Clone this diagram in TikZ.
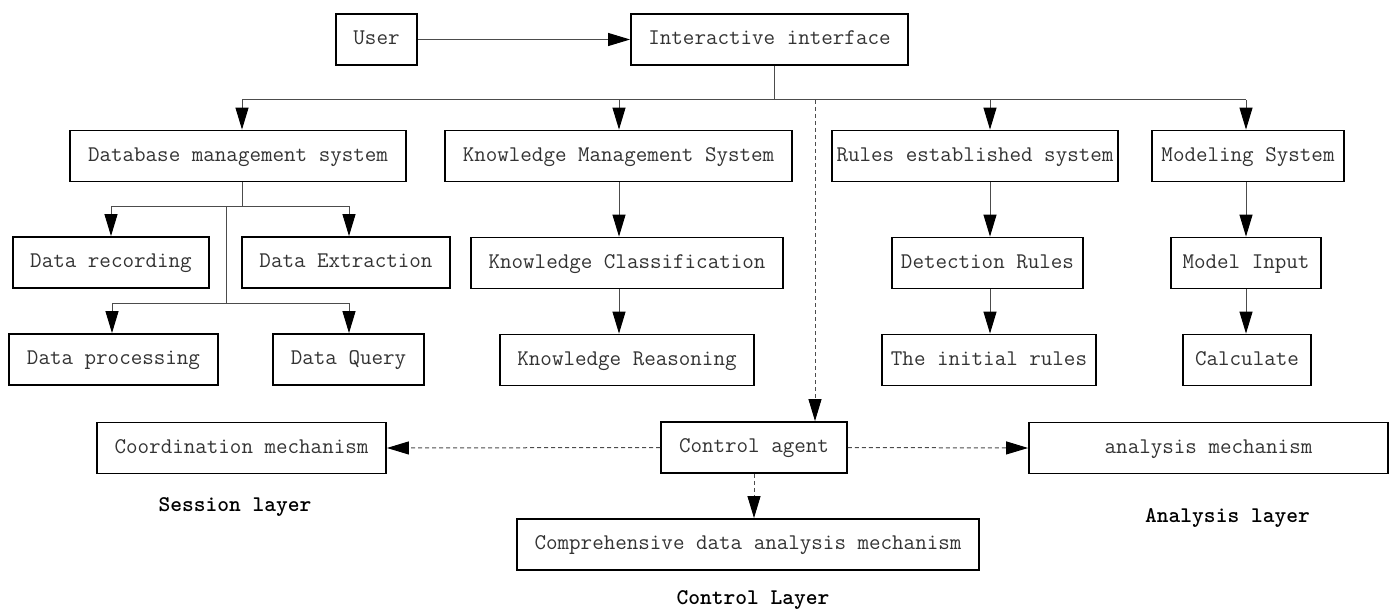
\documentclass[tikz,border=0pt]{standalone}
\usetikzlibrary{arrows.meta}
\begin{document}
\begin{tikzpicture}[x=0.5pt,y=-0.5pt,
		box/.style={draw,line width=0.9pt,minimum height=25.5pt,inner sep=0pt,text height=1.6ex,text depth=0.4ex,text=black!80,font=\ttfamily\fontsize{11.2}{13}\selectfont},
		layer/.style={font=\ttfamily\bfseries\fontsize{11.2}{13}\selectfont},
		link/.style={draw=black!70,line width=0.5pt},
		arr/.style={link,-{Triangle[length=11pt,width=6.5pt,color=black]}},
		darr/.style={arr,dash pattern=on 2pt off 1.5pt}]
		\useasboundingbox (0,0) rectangle (1397,610);
		\node[box,minimum width=40.5pt] (user) at (376.5,39.5) {User};
		\node[box,minimum width=138.5pt] (iface) at (769.5,39.5) {Interactive interface};
		\node[box,minimum width=168pt] (dbms) at (238,156) {Database management system};
		\node[box,minimum width=173.5pt] (kms) at (618.5,156) {Knowledge Management System};
		\node[box,minimum width=143pt] (res) at (975,156) {Rules established system};
		\node[box,minimum width=96pt] (ms) at (1248,156) {Modeling System};
		\node[box,minimum width=98pt] (drec) at (111,262.5) {Data recording};
		\node[box,minimum width=104pt] (dext) at (346,262.5) {Data Extraction};
		\node[box,minimum width=156pt] (kc) at (627,263) {Knowledge Classification};
		\node[box,minimum width=95.5pt] (dr) at (987.5,263) {Detection Rules};
		\node[box,minimum width=75pt] (mi) at (1246,263) {Model Input};
		\node[box,minimum width=104.5pt] (dproc) at (113.5,359.5) {Data processing};
		\node[box,minimum width=75.5pt] (dq) at (348.5,359.5) {Data Query};
		\node[box,minimum width=127pt] (kr) at (627,360) {Knowledge Reasoning};
		\node[box,minimum width=107pt] (tir) at (989,360) {The initial rules};
		\node[box,minimum width=64pt] (calc) at (1247,360) {Calculate};
		\node[box,minimum width=144.5pt] (coord) at (241.5,448) {Coordination mechanism};
		\node[box,minimum width=93pt] (ctrl) at (754,447.5) {Control agent};
		\node[box,minimum width=179.5pt] (anal) at (1208.5,448) {analysis mechanism};
		\node[box,minimum width=231pt] (comp) at (748,544.5) {Comprehensive data analysis mechanism};
		\node[layer] (session) at (235,507) {Session layer};
		\node[layer] (control) at (753,600) {Control Layer};
		\node[layer] (analysis) at (1227.5,518) {Analysis layer};
		\coordinate (top) at (774,100);
		\coordinate (busl) at (242,100);
		\coordinate (busk) at (619,100);
		\coordinate (busd) at (815,100);
		\coordinate (busru) at (990,100);
		\coordinate (busr) at (1246,100);
		\coordinate (d1) at (242,206);
		\coordinate (d1l) at (111,206);
		\coordinate (d1r) at (349,206);
		\coordinate (d2) at (226,206);
		\coordinate (d2b) at (226,303);
		\coordinate (d2l) at (112,303);
		\coordinate (d2r) at (349,303);
		\draw[arr] (user) -- (iface);
		\draw[link] (iface.south -| top) -- (top);
		\draw[link] (busl) -- (busr);
		\draw[arr] (busl) -- (dbms.north -| busl);
		\draw[arr] (busk) -- (kms.north -| busk);
		\draw[arr] (busru) -- (res.north -| busru);
		\draw[arr] (busr) -- (ms.north -| busr);
		\draw[darr] (busd) -- (ctrl.north -| busd);
		\draw[link] (dbms.south -| d1) -- (d1);
		\draw[link] (d1l) -- (d1r);
		\draw[arr] (d1l) -- (drec.north -| d1l);
		\draw[arr] (d1r) -- (dext.north -| d1r);
		\draw[link] (d2) -- (d2b);
		\draw[link] (d2l) -- (d2r);
		\draw[arr] (d2l) -- (dproc.north -| d2l);
		\draw[arr] (d2r) -- (dq.north -| d2r);
		\draw[arr] (kms.south -| busk) -- (kc.north -| busk);
		\draw[arr] (kc.south -| busk) -- (kr.north -| busk);
		\draw[arr] (res.south -| busru) -- (dr.north -| busru);
		\draw[arr] (dr.south -| busru) -- (tir.north -| busru);
		\draw[arr] (ms.south -| busr) -- (mi.north -| busr);
		\draw[arr] (mi.south -| busr) -- (calc.north -| busr);
		\draw[darr] (ctrl.west) -- (coord.east);
		\draw[darr] (ctrl.east) -- (anal.west);
		\draw[darr] (ctrl.south) -- (comp.north -| ctrl.south);
\end{tikzpicture}
\end{document}
